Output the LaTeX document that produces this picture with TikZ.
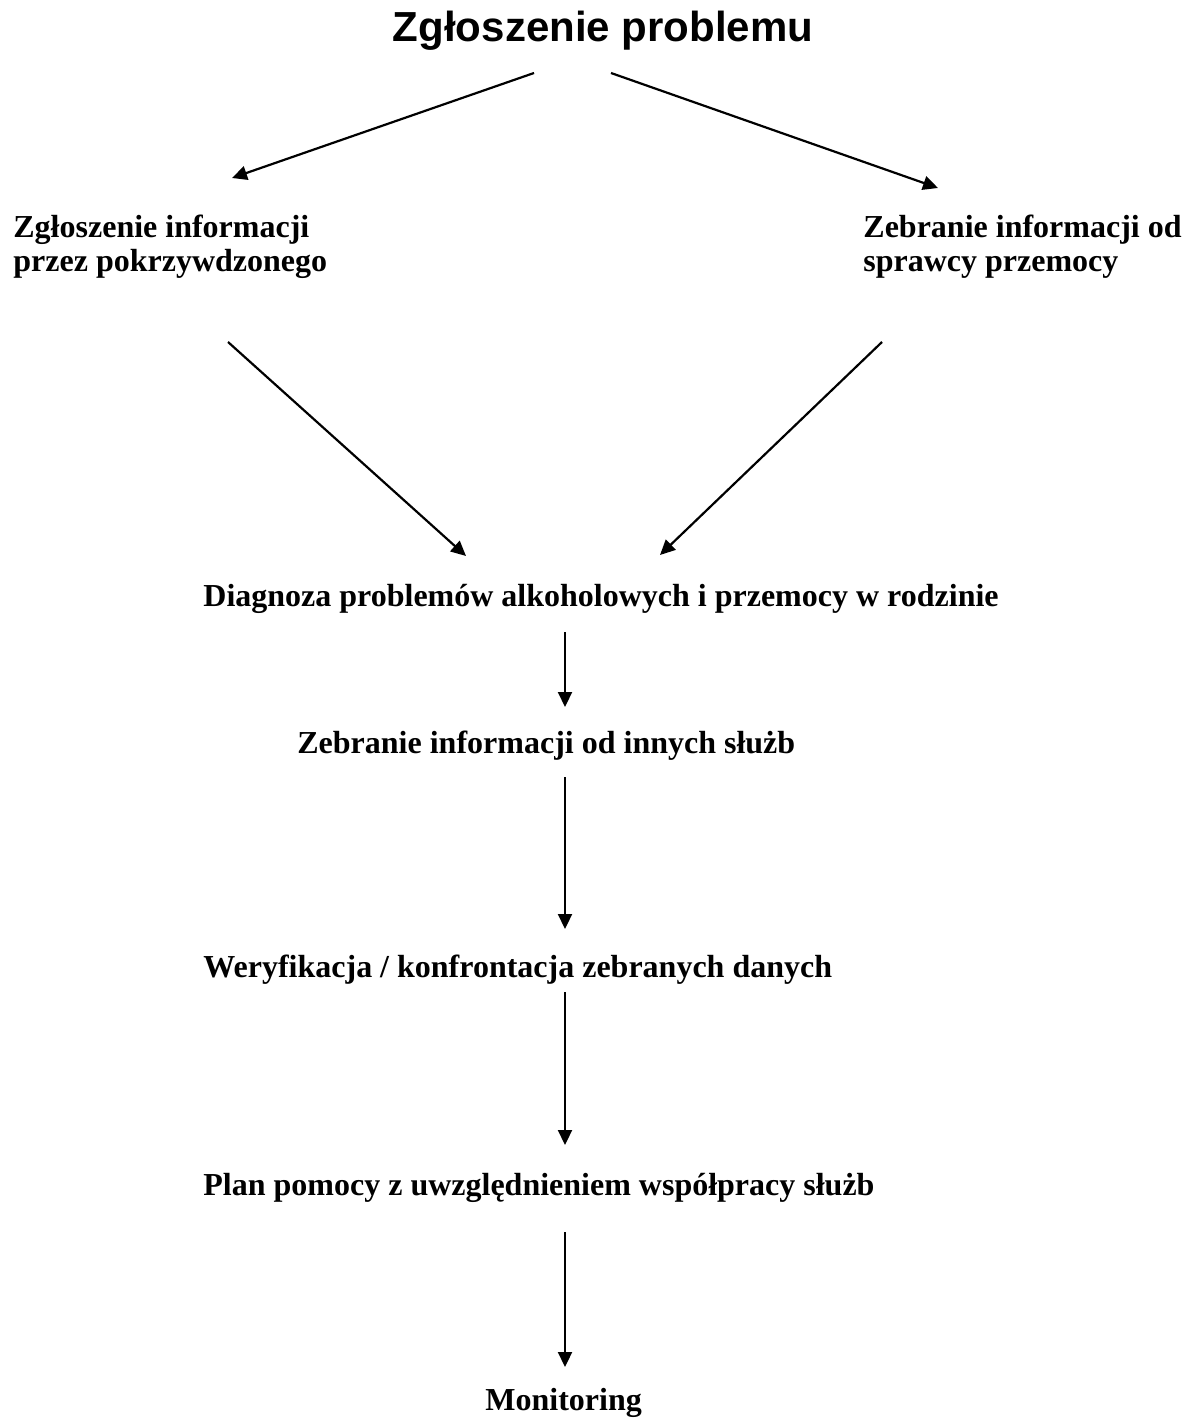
\documentclass[tikz,border=0pt]{standalone}
\usepackage{fontspec}
\setmainfont{Liberation Serif}
\newfontfamily\titlefont{Liberation Sans}
\usetikzlibrary{arrows.meta}

\begin{document}
\begin{tikzpicture}
  [x=0.5pt,y=-0.5pt,
   every node/.style={inner sep=0pt,anchor=base west,
     font=\fontsize{16}{17}\selectfont\bfseries},
   flow/.style={line width=1.1pt,-{Triangle[length=7.5pt,width=7pt]}}]
  \useasboundingbox (0,0) rectangle (1189,1422);

  \node (title) [anchor=base,font=\titlefont\fontsize{21}{24}\selectfont\bfseries]
    at (603,42) {Zgłoszenie problemu};
  \node (victim) [align=left] at (13,272) {Zgłoszenie informacji\\przez pokrzywdzonego};
  \node (perp) [align=left] at (863,272) {Zebranie informacji od\\sprawcy przemocy};
  \node (diag) at (203,606) {Diagnoza problemów alkoholowych i przemocy w rodzinie};
  \node (serv) at (297,753) {Zebranie informacji od innych służb};
  \node (verif) at (203,977) {Weryfikacja / konfrontacja zebranych danych};
  \node (plan) at (203,1195) {Plan pomocy z uwzględnieniem współpracy służb};
  \node (monit) at (485,1410) {Monitoring};

  % arrow ends
  \coordinate (t1) at (534,73);   \coordinate (v1) at (232,178);
  \coordinate (t2) at (611,73);   \coordinate (p1) at (938,188);
  \coordinate (v2) at (228,342);  \coordinate (d1) at (466,556);
  \coordinate (p2) at (882,342);  \coordinate (d2) at (660,555);
  \coordinate (d3) at (565,632);  \coordinate (s1) at (565,707);
  \coordinate (s2) at (565,777);  \coordinate (w1) at (565,929);
  \coordinate (w2) at (565,992);  \coordinate (l1) at (565,1145);
  \coordinate (l2) at (565,1232); \coordinate (m1) at (565,1367);

  \foreach \from/\to in {t1/v1,t2/p1,v2/d1,p2/d2,d3/s1,s2/w1,w2/l1,l2/m1}
    \draw [flow] (\from) -- (\to);
\end{tikzpicture}
\end{document}
